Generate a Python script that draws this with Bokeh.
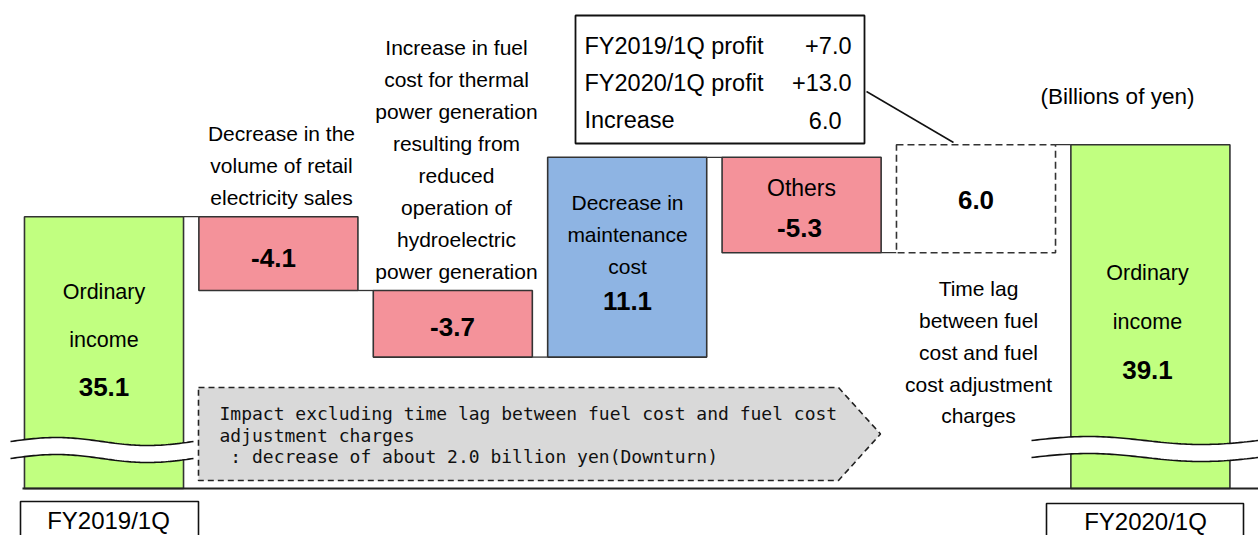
import numpy as np
from bokeh.plotting import figure
from bokeh.models import Range1d, ColumnDataSource
from bokeh.core.properties import value
from bokeh.embed import file_html
from bokeh.resources import INLINE

# ---------------- data ----------------
steps = ["FY2019/1Q", "Retail sales volume", "Fuel cost (hydro)", "Maintenance cost",
         "Others", "Time lag", "FY2020/1Q"]
amounts = [35.1, -4.1, -3.7, 11.1, -5.3, 6.0, 39.1]
kinds = ["total", "down", "down", "up", "down", "lag", "total"]
value_labels = ["35.1", "-4.1", "-3.7", "11.1", "-5.3", "6.0", "39.1"]
axis_floor = 20.0          # the broken axis starts here
category_labels = ["FY2019/1Q", "FY2020/1Q"]
profit_rows = ["FY2019/1Q profit", "FY2020/1Q profit", "Increase"]
profit_vals = ["+7.0", "+13.0", "6.0"]
unit_label = "(Billions of yen)"
note_lines = ["Impact excluding time lag between fuel cost and fuel cost",
              "adjustment charges",
              "\u00a0: decrease of about 2.0 billion yen(Downturn)"]

# ---------------- layout helpers (page pixels -> data units) ----------------
STEP_PX = 174.4
X0_PX = 103.5
PX_PER_UNIT = 18.0
FLOOR_PX = 488.0
BAR_W = 0.912
FONT = value("Liberation Sans")

def X(px):
    return (px - X0_PX) / STEP_PX

def Y(py):
    return axis_floor + (FLOOR_PX - py) / PX_PER_UNIT

colors = {"total": "#C1FF80", "down": "#F4929A", "up": "#8EB4E3", "lag": "#FFFFFF"}
EDGE = "#333333"

# ---------------- waterfall geometry from data ----------------
bottoms, tops, levels = [], [], []
running = None
for amt, kind in zip(amounts, kinds):
    if kind == "total":
        bottoms.append(axis_floor)
        tops.append(amt)
        running = amt
    else:
        new = running + amt
        bottoms.append(min(running, new))
        tops.append(max(running, new))
        running = new
    levels.append(running)
idx = list(range(len(amounts)))

p = figure(width=1258, height=535, output_backend="svg", toolbar_location=None,
           x_range=Range1d(X(0), X(1258)), y_range=Range1d(Y(535), Y(0)),
           x_axis_type=None, y_axis_type=None, min_border=0)
p.outline_line_color = None
p.background_fill_color = "white"
p.border_fill_color = "white"

# note pentagon
px_pent = [198, 838, 880, 838, 198]
py_pent = [387, 387, 433.5, 480, 480]
p.patch([X(v) for v in px_pent], [Y(v) for v in py_pent], fill_color="#D9D9D9",
        line_color="#222222", line_width=1.6, line_dash="6 4")

# connectors
cx0 = [i + BAR_W / 2 for i in idx[:-1]]
cx1 = [i + 1 - BAR_W / 2 for i in idx[:-1]]
cy = levels[:-1]
p.segment(x0=cx0, y0=cy, x1=cx1, y1=cy, line_color=EDGE, line_width=1.3)

# bars
solid = [i for i in idx if kinds[i] != "lag"]
src = ColumnDataSource(dict(
    l=[i - BAR_W / 2 for i in solid], r=[i + BAR_W / 2 for i in solid],
    b=[bottoms[i] for i in solid], t=[tops[i] for i in solid],
    c=[colors[kinds[i]] for i in solid]))
p.quad(left="l", right="r", bottom="b", top="t", source=src, fill_color="c",
       line_color=EDGE, line_width=1.6)
lag = [i for i in idx if kinds[i] == "lag"]
p.quad(left=[i - BAR_W / 2 for i in lag], right=[i + BAR_W / 2 for i in lag],
       bottom=[bottoms[i] for i in lag], top=[tops[i] for i in lag],
       fill_color="white", line_color=EDGE, line_width=1.6, line_dash="7 4")

# baseline
p.segment(x0=[X(22)], y0=[axis_floor], x1=[X(1258)], y1=[axis_floor],
          line_color="#222222", line_width=1.8)

# axis-break bands
t = np.linspace(0, 1, 80)
for x0, x1, ytop, ybot in [(10, 193, 441, 458), (1031, 1258, 440, 457)]:
    xs = x0 + (x1 - x0) * t
    wave = 4.0 * np.sin(2 * np.pi * t)
    top = ytop - wave
    bot = ybot - wave
    p.patch([X(v) for v in np.concatenate([xs, xs[::-1]])],
            [Y(v) for v in np.concatenate([top, bot[::-1]])],
            fill_color="white", line_color=None)
    p.line([X(v) for v in xs], [Y(v) for v in top], line_color="#111111", line_width=1.6)
    p.line([X(v) for v in xs], [Y(v) for v in bot], line_color="#111111", line_width=1.6)

# category boxes
p.quad(left=[X(20), X(1046)], right=[X(198), X(1243)], top=[Y(501), Y(503)],
       bottom=[Y(560), Y(560)], fill_color="white", line_color="#111111", line_width=1.6)
p.text(x=[X(108), X(1145)], y=[Y(520), Y(521)], text=category_labels,
       text_font=FONT, text_font_size="24px", text_align="center",
       text_baseline="middle", text_color="black")

# info box
p.quad(left=[X(575)], right=[X(864)], top=[Y(15)], bottom=[Y(143)],
       fill_color="white", line_color="#111111", line_width=1.8)
p.segment(x0=[X(866)], y0=[Y(91)], x1=[X(953)], y1=[Y(142)],
          line_color="#111111", line_width=1.5)
row_y = [45, 82, 119.5]
p.text(x=[X(584)] * 3, y=[Y(v) for v in row_y], text=profit_rows, text_font=FONT,
       text_font_size="23.5px", text_align="left", text_baseline="middle")
p.text(x=[X(851), X(851), X(841)], y=[Y(v) for v in row_y], text=profit_vals,
       text_font=FONT, text_font_size="23.5px", text_align="right", text_baseline="middle")

def lines(cx, ys, texts, size="21px", bold=False):
    p.text(x=[X(cx)] * len(ys), y=[Y(v) for v in ys], text=texts, text_font=FONT,
           text_font_size=size, text_align="center", text_baseline="middle",
           text_font_style="bold" if bold else "normal", text_color="black")

# labels inside bars
lines(103.5, [291, 339], ["Ordinary", "income"], size="21.5px")
lines(1147, [272, 321], ["Ordinary", "income"], size="21.5px")
lines(627, [202, 234, 266], ["Decrease in", "maintenance", "cost"])
lines(801, [187], ["Others"], size="23px")
# value labels
val_y = [386, 257, 326, 300, 227, 199, 369]
val_x = [103.5, 273, 452, 627, 799, 975.5, 1147]
p.text(x=[X(v) for v in val_x], y=[Y(v) for v in val_y], text=value_labels,
       text_font=FONT, text_font_size="26px", text_font_style="bold",
       text_align="center", text_baseline="middle", text_color="black")

# descriptive labels
lines(281, [133, 165, 197], ["Decrease in the", "volume of retail", "electricity sales"])
lines(456, [46.5, 78.5, 110.5, 142.5, 174.5, 206.5, 238.5, 270.5],
      ["Increase in fuel", "cost for thermal", "power generation", "resulting from",
       "reduced", "operation of", "hydroelectric", "power generation"])
lines(978, [288, 320, 352, 384, 415],
      ["Time lag", "between fuel", "cost and fuel", "cost adjustment", "charges"])
lines(1117, [96], [unit_label], size="22.5px")

# note text
p.text(x=[X(219)] * 3, y=[Y(v) for v in [413, 435, 456]], text=note_lines,
       text_font=value("DejaVu Sans Mono"), text_font_size="18px",
       text_align="left", text_baseline="middle", text_color="#111111")

open("out.html", "w").write(file_html(p, INLINE))
